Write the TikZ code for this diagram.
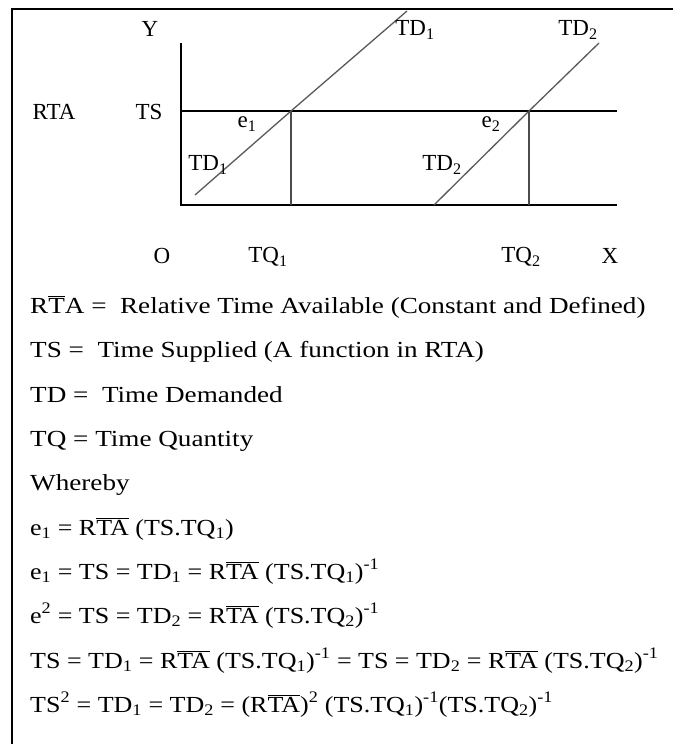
\documentclass[tikz,border=0pt]{standalone}
\usepackage{fontspec}
\setmainfont{Liberation Serif}
\newfontfamily\bodyfont{Liberation Serif}[FakeStretch=1.13]
\newfontfamily\deffont{Liberation Serif}[FakeStretch=1.18]
\usetikzlibrary{positioning,calc}

\newcommand{\rbar}{R$\overline{\mbox{T}}$A}
\newcommand{\rbarr}{R$\overline{\mbox{TA}}$}

\begin{document}
\begin{tikzpicture}[
    x=1pt, y=-1pt,
    lbl/.style={font=\fontsize{23}{27}\selectfont, inner sep=0pt},
    txt/.style={font=\bodyfont\fontsize{23}{27}\selectfont, inner sep=0pt, anchor=base west},
    deftxt/.style={txt, font=\deffont\fontsize{23}{27}\selectfont},
    % axes and TS line: solid black
    axisline/.style={line width=1.4pt, black},
    % demand lines: thin gray
    tdline/.style={line width=1.3pt, black!65},
    % drop lines from e1, e2
    dropline/.style={line width=1.8pt, black!70},
    frame/.style={line width=2.2pt, black}
]
\useasboundingbox (0,0) rectangle (673,744);

% === Frame ===
\draw[frame] (12,744) -- (12,9) -- (673,9);

% === Axes ===
\coordinate (O)    at (181,205);
\coordinate (Ytop) at (181,43);
\coordinate (Xend) at (617,205);
\coordinate (TSl)  at (181,111);
\coordinate (TSr)  at (617,111);
\draw[axisline] (Ytop) -- (O) -- (Xend);
\draw[axisline] (TSl) -- (TSr);

% === Demand lines TD1, TD2 ===
\coordinate (e1)    at (291,111);
\coordinate (e2)    at (529,111);
\coordinate (TD1lo) at (195,195);
\coordinate (TD1hi) at (407,11);
\coordinate (TD2lo) at (434,205);
\coordinate (TD2hi) at (599,43);
\draw[tdline] (TD1lo) -- (e1) -- (TD1hi);
\draw[tdline] (TD2lo) -- (e2) -- (TD2hi);

% drop lines to TQ1, TQ2
\draw[dropline] (e1) -- (e1 |- O);
\draw[dropline] (e2) -- (e2 |- O);

% === Graph labels ===
\node[lbl] (Ylbl)   at (150,29)  {Y};
\node[lbl] (RTAlbl) at (54,112)  {RTA};
\node[lbl] (TSlbl)  at (149,112) {TS};
\node[lbl] (e1lbl)  at (247,124) {e\textsubscript{1}};
\node[lbl] (e2lbl)  at (491,124) {e\textsubscript{2}};
\node[lbl] (TD1a)   at (208,165) {TD\textsubscript{1}};
\node[lbl] (TD2a)   at (442,165) {TD\textsubscript{2}};
\node[lbl] (TD1b)   at (415,30)  {TD\textsubscript{1}};
\node[lbl] (TD2b)   at (578,30)  {TD\textsubscript{2}};
\node[lbl] (Olbl)   at (162,256) {O};
\node[lbl] (TQ1)    at (268,257) {TQ\textsubscript{1}};
\node[lbl] (TQ2)    at (521,257) {TQ\textsubscript{2}};
\node[lbl] (Xlbl)   at (610,256) {X};

% === Definitions ===
\node[deftxt] (defRTA) at (30,313) {\rbar{} =\ \ Relative Time Available (Constant and Defined)};
\node[deftxt] (defTS)  at (30,357) {TS =\ \ Time Supplied (A function in RTA)};
\node[deftxt] (defTD)  at (30,402) {TD =\ \ Time Demanded};
\node[deftxt] (defTQ)  at (30,446) {TQ = Time Quantity};
\node[deftxt] (where)  at (30,490) {Whereby};

% === Equations ===
\node[txt] (eq1) at (30,535) {e\textsubscript{1} = \rbarr{} (TS.TQ\textsubscript{1})};
\node[txt] (eq2) at (30,579) {e\textsubscript{1} = TS = TD\textsubscript{1} = \rbarr{} (TS.TQ\textsubscript{1})\textsuperscript{-1}};
\node[txt] (eq3) at (30,623) {e\textsuperscript{2} = TS = TD\textsubscript{2} = \rbarr{} (TS.TQ\textsubscript{2})\textsuperscript{-1}};
\node[txt] (eq4) at (30,668) {TS = TD\textsubscript{1} = \rbarr{} (TS.TQ\textsubscript{1})\textsuperscript{-1} = TS = TD\textsubscript{2} = \rbarr{} (TS.TQ\textsubscript{2})\textsuperscript{-1}};
\node[txt] (eq5) at (30,712) {TS\textsuperscript{2} = TD\textsubscript{1} = TD\textsubscript{2} = (\rbarr)\textsuperscript{2} (TS.TQ\textsubscript{1})\textsuperscript{-1}(TS.TQ\textsubscript{2})\textsuperscript{-1}};

\end{tikzpicture}
\end{document}
